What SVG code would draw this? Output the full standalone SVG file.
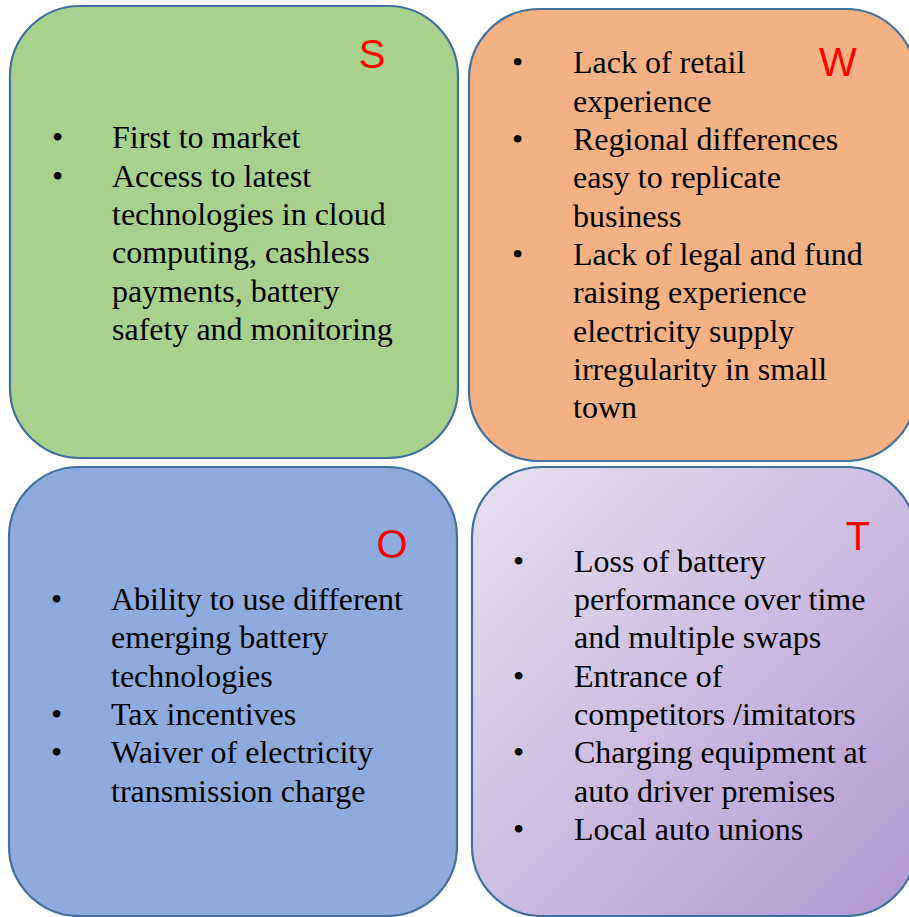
<svg xmlns="http://www.w3.org/2000/svg" width="909" height="917" viewBox="0 0 909 917">
<style>
.box{stroke:#41719C;stroke-width:2.2}
.t{font-family:"Liberation Serif","Times New Roman",serif;font-size:32px;fill:#000}
.l{font-family:"Liberation Sans",Arial,sans-serif;font-size:40px;fill:#FF0000;text-anchor:middle}
</style>
<defs>
<linearGradient id="gT" x1="0" y1="0" x2="1" y2="1">
<stop offset="0" stop-color="#E6E1F0"/>
<stop offset="1" stop-color="#B198D2"/>
</linearGradient>
</defs>
<rect width="909" height="917" fill="#FFFFFF"/>
<g id="connectors"></g>
<g id="node-S">
<rect class="box" x="10" y="6" width="448" height="452" rx="70" ry="70" fill="#A9D18E"/>
<text class="l" x="372" y="68">S</text>
<text class="t" x="52" y="148">•</text>
<text class="t" x="112" y="148">First to market</text>
<text class="t" x="52" y="187">•</text>
<text class="t" x="112" y="187">Access to latest</text>
<text class="t" x="112" y="225">technologies in cloud</text>
<text class="t" x="112" y="263">computing, cashless</text>
<text class="t" x="112" y="302">payments, battery</text>
<text class="t" x="112" y="340">safety and monitoring</text>
</g>
<g id="node-W">
<rect class="box" x="469" y="9" width="447" height="452" rx="70" ry="70" fill="#F4B183"/>
<text class="l" x="838" y="76">W</text>
<text class="t" x="512" y="73">•</text>
<text class="t" x="573" y="73">Lack of retail</text>
<text class="t" x="573" y="112">experience</text>
<text class="t" x="512" y="150">•</text>
<text class="t" x="573" y="150">Regional differences</text>
<text class="t" x="573" y="188">easy to replicate</text>
<text class="t" x="573" y="227">business</text>
<text class="t" x="512" y="265">•</text>
<text class="t" x="573" y="265">Lack of legal and fund</text>
<text class="t" x="573" y="303">raising experience</text>
<text class="t" x="573" y="342">electricity supply</text>
<text class="t" x="573" y="380">irregularity in small</text>
<text class="t" x="573" y="418">town</text>
</g>
<g id="node-O">
<rect class="box" x="9" y="467" width="448" height="449" rx="70" ry="70" fill="#8FAADC"/>
<text class="l" x="392" y="558">O</text>
<text class="t" x="51" y="610">•</text>
<text class="t" x="111" y="610">Ability to use different</text>
<text class="t" x="111" y="648">emerging battery</text>
<text class="t" x="111" y="687">technologies</text>
<text class="t" x="51" y="725">•</text>
<text class="t" x="111" y="725">Tax incentives</text>
<text class="t" x="51" y="763">•</text>
<text class="t" x="111" y="763">Waiver of electricity</text>
<text class="t" x="111" y="802">transmission charge</text>
</g>
<g id="node-T">
<rect class="box" x="472" y="467" width="444" height="449" rx="70" ry="70" fill="url(#gT)"/>
<text class="l" x="858" y="550">T</text>
<text class="t" x="513" y="572">•</text>
<text class="t" x="574" y="572">Loss of battery</text>
<text class="t" x="574" y="610">performance over time</text>
<text class="t" x="574" y="648">and multiple swaps</text>
<text class="t" x="513" y="687">•</text>
<text class="t" x="574" y="687">Entrance of</text>
<text class="t" x="574" y="725">competitors /imitators</text>
<text class="t" x="513" y="763">•</text>
<text class="t" x="574" y="763">Charging equipment at</text>
<text class="t" x="574" y="802">auto driver premises</text>
<text class="t" x="513" y="840">•</text>
<text class="t" x="574" y="840">Local auto unions</text>
</g>
</svg>
